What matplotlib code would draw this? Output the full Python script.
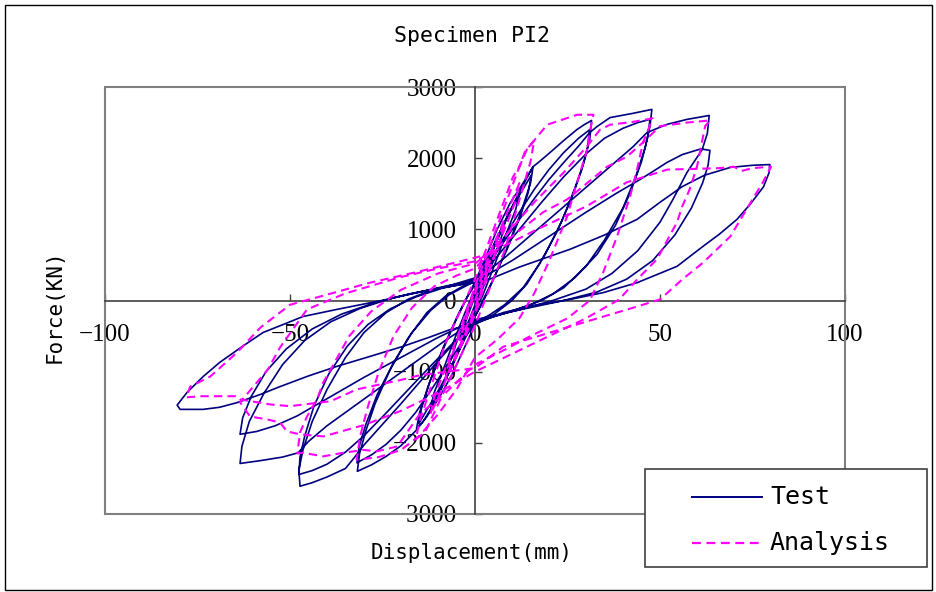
import matplotlib.pyplot as plt
from matplotlib.patches import Rectangle
from matplotlib.lines import Line2D

# ---- Test (measured) loops: displacement (mm), force (kN) ----
t_c1_d = [0, 1.5, 3, 4, 3.4, 2, 0.5, 0, -1.5, -3, -4, -3.4, -2, -0.5, 0]
t_c1_f = [0, 230, 420, 540, 430, 220, 20, -60, -260, -440, -560, -440, -220, -10, 60]

t_c2_d = [0, 2, 4, 6, 8, 7.2, 5, 2.5, 0.5, 0, -2, -4, -6, -8, -7.2, -5, -2.5, -0.5, 0]
t_c2_f = [60, 330, 600, 850, 1080, 900, 560, 220, -40, -110, -380, -650, -900, -1120, -940, -590, -230, 30, 100]

t_c3_d = [0, 3, 6, 9, 12, 11, 8, 5, 2, 0, -3, -6, -9, -12, -11, -8, -5, -2, 0]
t_c3_f = [100, 480, 850, 1200, 1500, 1280, 880, 460, 60, -150, -520, -880, -1220, -1500, -1290, -890, -470, -80, 150]

t_c4_d = [0, 3, 6, 9, 12, 14, 15.7, 15, 12.5, 9, 5, 2, 0, -3, -6, -9, -12, -14, -15.8, -15, -12.5, -9, -5, -2, 0]
t_c4_f = [150, 520, 880, 1220, 1520, 1720, 1880, 1650, 1250, 780, 300, -40, -220, -560, -900, -1230, -1530, -1700, -1800, -1580, -1180, -730, -260, 60, 220]

t_c5_d = [0, 3, 6, 9, 12, 15.2, 14.4, 12, 8.5, 4.5, 1.5, 0, -3, -6, -9, -12, -15.2, -14.4, -12, -8.5, -4.5, -1.5, 0]
t_c5_f = [220, 560, 890, 1200, 1480, 1760, 1520, 1150, 700, 250, -60, -230, -560, -880, -1180, -1450, -1730, -1500, -1110, -650, -190, 110, 260]

t_c6_d = [0, 3, 6, 9.5, 13, 15.7, 17.6, 20.3, 23.8, 27.5, 29.5, 31.5,
          31, 29.5, 27, 23.5, 19, 14, 10, 5, 0,
          -3, -6, -9.5, -13, -16, -20, -24, -28, -31.8,
          -31.2, -29.5, -27, -23, -18, -13, -8, -4, 0]
t_c6_f = [260, 620, 1000, 1370, 1650, 1880, 1960, 2080, 2240, 2400, 2470, 2530,
          2260, 1950, 1580, 1120, 650, 230, 0, -200, -330,
          -680, -1020, -1350, -1630, -1830, -2040, -2190, -2310, -2400,
          -2150, -1830, -1450, -980, -520, -170, 60, 180, 280]

t_c7_d = [0, 4, 8, 12, 16, 20, 24, 28, 31,
          30.4, 28.8, 26, 22, 17.5, 13, 8, 4, 0,
          -4, -8, -12, -16, -20, -24, -28, -31.9,
          -31.3, -29.5, -26.5, -22, -17, -12, -7, -3, 0]
t_c7_f = [280, 560, 900, 1240, 1560, 1840, 2080, 2280, 2400,
          2150, 1830, 1420, 950, 520, 180, -60, -200, -320,
          -620, -950, -1270, -1570, -1820, -2020, -2170, -2280,
          -2050, -1740, -1330, -870, -450, -140, 80, 190, 270]

t_c8_d = [0, 4, 8, 12, 16, 20, 24, 28, 31, 33, 36.5, 42.7, 47.8,
          47.3, 46, 43.5, 40, 35, 30, 24, 18, 10, 5, 0,
          -5, -10, -15, -20, -25, -30, -32.5, -35, -40, -44, -47.3,
          -47.6, -46.5, -44, -40, -35, -30, -24, -18, -12, -6, 0]
t_c8_f = [270, 540, 840, 1140, 1430, 1700, 1940, 2170, 2360, 2445, 2570, 2630, 2685,
          2450, 2150, 1750, 1300, 850, 480, 180, 0, -150, -230, -310,
          -560, -850, -1150, -1450, -1740, -2030, -2200, -2360, -2480, -2560, -2610,
          -2380, -2100, -1700, -1250, -800, -450, -170, 20, 140, 220, 290]

t_c9_d = [0, 6, 12, 18, 24, 30, 35, 40, 44, 47.3,
          46.6, 45, 42, 38, 33, 27, 21, 15, 8, 0,
          -6, -12, -18, -24, -30, -35, -40, -44, -47.6,
          -47.3, -46, -43.5, -39.5, -34.5, -29, -23, -16, -9, 0]
t_c9_f = [290, 620, 1000, 1380, 1740, 2060, 2280, 2420, 2500, 2545,
          2280, 1950, 1520, 1060, 650, 320, 90, -60, -180, -300,
          -600, -920, -1250, -1580, -1900, -2130, -2300, -2390, -2445,
          -2200, -1900, -1480, -1030, -640, -340, -120, 50, 170, 270]

t_c10_d = [0, 8, 16, 24, 32, 38, 42.7, 46.5, 51.9, 57.3, 63.3,
           62.8, 61.4, 57.3, 53.5, 50, 44, 37, 30, 21, 12, 5, 0,
           -8, -16, -24, -32, -40, -45, -47.8, -52, -58, -63.5,
           -63, -61, -57, -52, -46, -39, -31, -22, -13, -5, 0]
t_c10_f = [270, 600, 960, 1320, 1680, 1950, 2160, 2360, 2475, 2545, 2600,
           2350, 2120, 1800, 1420, 1100, 700, 380, 160, 0, -130, -220, -290,
           -560, -860, -1160, -1460, -1760, -1980, -2140, -2200, -2250, -2290,
           -2050, -1700, -1300, -900, -560, -300, -110, 40, 140, 220, 260]

t_c11_d = [0, 10, 20, 30, 38, 44.6, 48, 51.9, 56, 61, 63.5,
           63, 61.5, 58.5, 54, 48, 41, 33, 24, 14, 6, 0,
           -10, -20, -30, -40, -48, -54, -59, -63.5,
           -62.8, -60.5, -56.5, -51, -44, -36, -27, -18, -9, 0]
t_c11_f = [260, 560, 900, 1240, 1500, 1700, 1810, 1940, 2050, 2130, 2110,
           1900, 1650, 1300, 920, 560, 300, 120, 0, -110, -200, -270,
           -520, -800, -1080, -1380, -1620, -1760, -1840, -1880,
           -1650, -1350, -1000, -680, -400, -190, -30, 90, 180, 250]

t_c12_d = [0, 4, 12, 25.7, 35, 43.8, 50, 56, 62, 69, 75, 79.7,
           79.5, 78, 74.5, 70.8, 66, 61.6, 54.6, 43.8, 34.6, 25.7, 15, 7.6, 0,
           -6.8, -12, -19.5, -28, -37.3, -45, -52.7, -58, -64.3, -69, -73.5, -79.7,
           -80.5, -77.8, -73.5, -69, -63, -57.3, -51, -46.5, -37.3, -23.8, -15, -5.9, 0.5]
t_c12_f = [250, 300, 470, 720, 920, 1140, 1380, 1600, 1760, 1870, 1900, 1910,
           1800, 1600, 1360, 1140, 930, 760, 480, 250, 110, 15, -80, -170, -330,
           -410, -510, -645, -780, -925, -1060, -1210, -1320, -1435, -1500, -1530, -1530,
           -1470, -1290, -1070, -870, -650, -450, -320, -225, -125, 15, 120, 225, 325]

# ---- Analysis loops ----
a_c1_d = [0, 4, 3, 0, -4, -3, 0]
a_c1_f = [0, 560, 350, -100, -560, -350, 100]

a_c2_d = [0, 8, 7, 3, 0, -8, -7, -3, 0]
a_c2_f = [100, 1100, 880, 300, -150, -1100, -880, -300, 150]

a_c3_d = [0, 12, 11, 5, 0, -12, -11, -5, 0]
a_c3_f = [150, 1650, 1400, 600, -200, -1600, -1350, -550, 200]

a_c4_d = [0, 13.5, 16, 15, 8, 0, -13.5, -16, -15, -8, 0]
a_c4_f = [200, 2090, 2250, 1950, 700, -350, -1850, -1950, -1700, -600, 300]

a_c5_d = [0, 10.3, 12, 14, 16.8, 19.5, 27.6, 32,
          31, 30.3, 28.4, 27, 24.9, 20, 16, 12, 6, 0,
          -5, -10, -15, -20, -26, -32,
          -31, -29, -26, -22, -17, -11, -5, 0]
a_c5_f = [300, 1740, 1880, 2120, 2300, 2470, 2610, 2610,
          2360, 2120, 1800, 1560, 1180, 550, 100, -250, -550, -800,
          -1250, -1600, -1900, -2100, -2200, -2240,
          -1900, -1500, -1000, -500, -100, 200, 350, 450]

a_c6_d = [0, 8, 16, 24, 30, 33.8, 36.5, 42.7, 48,
          46.5, 45.4, 43.8, 41.9, 38.4, 34.6, 31, 25, 15, 7, 0,
          -8, -15, -21, -26.5, -30, -35.7, -41, -46.5, -48,
          -47.3, -45.4, -42.7, -41, -39, -34, -28, -20, -10, 0]
a_c6_f = [450, 900, 1380, 1800, 2150, 2400, 2470, 2510, 2560,
          2360, 2220, 1840, 1460, 900, 390, 0, -250, -500, -720, -900,
          -1300, -1600, -2050, -2120, -2100, -2140, -2190, -2140, -2150,
          -1855, -1630, -1390, -1150, -970, -500, -150, 150, 380, 520]

a_c7_d = [0, 10, 18.4, 24.9, 35.7, 41, 45.4, 50, 57.3, 63.5,
          62.2, 60, 58, 56, 54.6, 49.2, 43.8, 39, 30, 20, 10, 0,
          -10, -20, -30, -41, -47.3, -50.8, -52.7, -56.2, -60.8, -63.5,
          -56, -52.7, -45.4, -35, -20, -10, 0]
a_c7_f = [520, 900, 1240, 1420, 1880, 2020, 2220, 2450, 2500, 2530,
          2450, 1880, 1560, 1320, 1100, 580, 295, 15, -250, -500, -750, -1000,
          -1300, -1550, -1750, -1910, -1880, -1840, -1715, -1670, -1630, -1430,
          -970, -660, -125, 100, 330, 450, 550]

a_c8_d = [0, 7.6, 16.8, 30, 41, 52, 60, 66, 70, 72, 75, 80,
          77.8, 75, 69, 61.6, 56, 50, 43.8, 25.7, 7.6, 0,
          -14.9, -19.5, -32, -39, -50, -55.4, -63.5, -64.3, -73.8, -78,
          -77, -71.6, -64.3, -58, -50, -41.9, -28.4, -14.9, 1.4]
a_c8_f = [550, 760, 1000, 1320, 1660, 1840, 1850, 1860, 1880, 1820, 1860, 1880,
          1660, 1420, 900, 530, 295, 15, -85, -365, -650, -950,
          -1050, -1110, -1250, -1415, -1485, -1460, -1390, -1345, -1345, -1360,
          -1210, -1070, -730, -380, -60, 55, 250, 410, 620]

test_d = (t_c1_d + t_c2_d + t_c3_d + t_c4_d + t_c5_d + t_c6_d + t_c7_d
          + t_c8_d + t_c9_d + t_c10_d + t_c11_d + t_c12_d)
test_f = (t_c1_f + t_c2_f + t_c3_f + t_c4_f + t_c5_f + t_c6_f + t_c7_f
          + t_c8_f + t_c9_f + t_c10_f + t_c11_f + t_c12_f)
ana_d = a_c1_d + a_c2_d + a_c3_d + a_c4_d + a_c5_d + a_c6_d + a_c7_d + a_c8_d
ana_f = a_c1_f + a_c2_f + a_c3_f + a_c4_f + a_c5_f + a_c6_f + a_c7_f + a_c8_f

x_ticks = [-100, -50, 0, 50, 100]
y_ticks = [-3000, -2000, -1000, 0, 1000, 2000, 3000]

W, H = 937, 592
fig = plt.figure(figsize=(W / 100, H / 100), dpi=100)
ax = fig.add_axes([105 / W, 1 - 514 / H, 740 / W, 427 / H])

test_col = '#000080'
ana_col = '#FF00FF'
ax.plot(test_d, test_f, color=test_col, lw=1.2, zorder=3)
ax.plot(ana_d, ana_f, color=ana_col, lw=1.5, dashes=(4, 2.5), zorder=3)

ax.set_xlim(-100, 100)
ax.set_ylim(-3000, 3000)
ax.set_xticks(x_ticks)
ax.set_yticks(y_ticks)
for s in ['top', 'right']:
    ax.spines[s].set_visible(False)
for s in ['left', 'bottom']:
    ax.spines[s].set_position(('data', 0))
    ax.spines[s].set_color('#404040')
    ax.spines[s].set_linewidth(1.2)
ax.add_patch(Rectangle((0, 0), 1, 1, transform=ax.transAxes, fill=False,
                       edgecolor='#808080', lw=1.5, clip_on=False, zorder=2))
ax.tick_params(direction='in', length=5, width=1, color='#404040')
ax.tick_params(axis='y', pad=13)
ax.tick_params(axis='x', pad=17)
for lab in ax.get_xticklabels() + ax.get_yticklabels():
    lab.set_fontfamily('Liberation Serif')
    lab.set_fontsize(18)

mono = 'DejaVu Sans Mono'
fig.text(472 / W, 1 - 36 / H, 'Specimen PI2', ha='center', va='center',
         family=mono, fontsize=15.5)
fig.text(472 / W, 1 - 553 / H, 'Displacement(mm)', ha='center', va='center',
         family=mono, fontsize=15)
fig.text(55 / W, 1 - 306 / H, 'Force(KN)', ha='center', va='center',
         rotation=90, family=mono, fontsize=15)

# outer frame
fig.add_artist(Rectangle((5 / W, 2 / H), 927 / W, 585 / H, transform=fig.transFigure,
                         fill=False, edgecolor='black', lw=1))

# legend box
fig.add_artist(Rectangle((645 / W, 25 / H), 282 / W, 98 / H, transform=fig.transFigure,
                         facecolor='white', edgecolor='#404040', lw=1.2, zorder=4))
fig.add_artist(Line2D([692 / W, 762 / W], [1 - 497 / H] * 2, transform=fig.transFigure,
                      color=test_col, lw=1.4, zorder=5))
fig.add_artist(Line2D([692 / W, 762 / W], [1 - 543 / H] * 2, transform=fig.transFigure,
                      color=ana_col, lw=1.6, dashes=(4, 2.5), zorder=5))
fig.text(770 / W, 1 - 497 / H, 'Test', va='center', family=mono, fontsize=18, zorder=5)
fig.text(770 / W, 1 - 543 / H, 'Analysis', va='center', family=mono, fontsize=18, zorder=5)

fig.savefig('out.png', dpi=100)
